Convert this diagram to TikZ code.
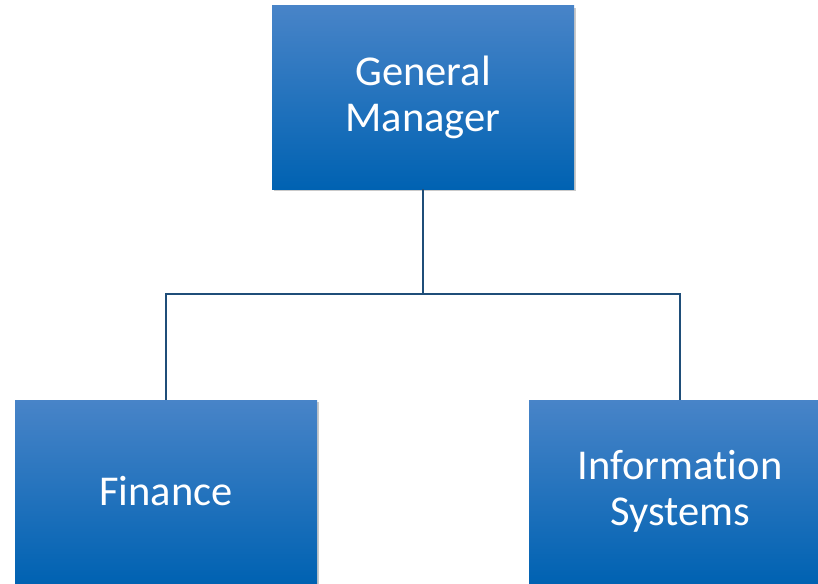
\documentclass[tikz,border=0pt]{standalone}
\usepackage{fontspec}
\setmainfont[Ligatures=NoCommon]{Carlito}
\usetikzlibrary{shadows}
\definecolor{boxtop}{RGB}{72,132,200}
\definecolor{boxmid}{RGB}{0,112,192}
\definecolor{boxbot}{RGB}{0,98,178}
\definecolor{linkblue}{RGB}{31,78,121}
\tikzset{
  unit/.style={rectangle, minimum width=302pt, minimum height=183pt, inner sep=0pt,
    top color=boxtop, middle color=boxmid, bottom color=boxbot,
    drop shadow={shadow xshift=2pt, shadow yshift=-2pt, opacity=0.35, fill=black!60},
    text=white, align=center, font=\fontsize{42.5}{46}\selectfont},
  link/.style={linkblue, line width=1.6pt}
}
\begin{document}
\begin{tikzpicture}[x=1pt, y=-1pt]
    \useasboundingbox (0,0) rectangle (818,583);
    \node [unit] (gm) at (423,97.5) {General\\Manager};
    \node [unit] (fin) at (166,491.5) {Finance};
    \node [unit] (is) at (680,491.5) {Information\\Systems};
    \coordinate (split) at (423,294);
    \draw [link] (gm.south) -- (split) -| (fin.north);
    \draw [link] (split) -| (is.north);
  \end{tikzpicture}
\end{document}
